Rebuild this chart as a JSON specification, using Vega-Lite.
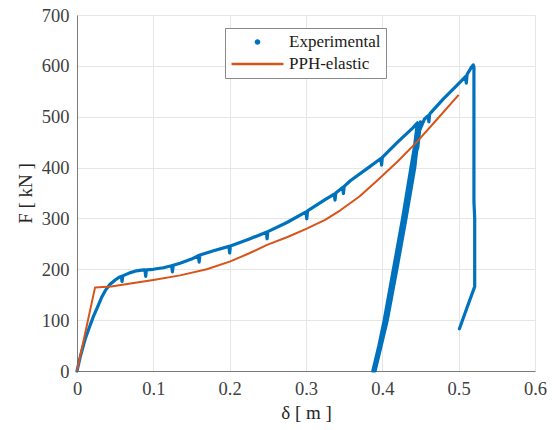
{
  "$schema": "https://vega.github.io/schema/vega-lite/v6.json",
  "width": 458,
  "height": 356,
  "autosize": {"type": "none"},
  "padding": {"left": 77, "top": 15, "right": 20, "bottom": 59},
  "background": "white",
  "datasets": {
    "exp": [
      {"d":0,"F":0},{"d":0.005,"F":32},{"d":0.0105,"F":62},{"d":0.016,"F":85},{"d":0.0214,"F":107},{"d":0.027,"F":126},{"d":0.032,"F":144},{"d":0.037,"F":158},{"d":0.043,"F":170},{"d":0.05,"F":179},{"d":0.056,"F":185},
      {"d":0.058,"F":186},{"d":0.059,"F":176},{"d":0.06,"F":187},
      {"d":0.069,"F":193},{"d":0.078,"F":197},{"d":0.087,"F":199},
      {"d":0.089,"F":199},{"d":0.09,"F":186},{"d":0.091,"F":199},
      {"d":0.1,"F":200},{"d":0.113,"F":203},
      {"d":0.124,"F":207},{"d":0.125,"F":195},{"d":0.126,"F":208},
      {"d":0.135,"F":212},{"d":0.15,"F":220},
      {"d":0.159,"F":227},{"d":0.16,"F":214},{"d":0.161,"F":228},
      {"d":0.18,"F":237},
      {"d":0.199,"F":245},{"d":0.2,"F":232},{"d":0.201,"F":246},
      {"d":0.225,"F":259},
      {"d":0.248,"F":273},{"d":0.249,"F":260},{"d":0.25,"F":274},
      {"d":0.275,"F":292},
      {"d":0.3,"F":313},{"d":0.301,"F":299},{"d":0.302,"F":315},
      {"d":0.325,"F":337},
      {"d":0.337,"F":348},{"d":0.338,"F":336},{"d":0.339,"F":350},
      {"d":0.348,"F":361},{"d":0.349,"F":349},{"d":0.35,"F":363},
      {"d":0.358,"F":374},{"d":0.38,"F":398},
      {"d":0.398,"F":418},{"d":0.399,"F":405},{"d":0.4,"F":420},
      {"d":0.42,"F":450},{"d":0.44,"F":478},{"d":0.446,"F":488},
      {"d":0.442,"F":440},{"d":0.4375,"F":400},{"d":0.4265,"F":300},{"d":0.4145,"F":200},{"d":0.4025,"F":100},{"d":0.3955,"F":50},{"d":0.3875,"F":0},
      {"d":0.3905,"F":0},{"d":0.3985,"F":50},{"d":0.4065,"F":100},{"d":0.419,"F":200},{"d":0.431,"F":300},{"d":0.4425,"F":400},{"d":0.447,"F":460},{"d":0.45,"F":490},
      {"d":0.4465,"F":440},{"d":0.4385,"F":400},{"d":0.4275,"F":300},{"d":0.4155,"F":200},{"d":0.4035,"F":100},{"d":0.3965,"F":50},{"d":0.3885,"F":0},
      {"d":0.3895,"F":0},{"d":0.3975,"F":50},{"d":0.4055,"F":100},{"d":0.418,"F":200},{"d":0.4295,"F":300},{"d":0.4415,"F":400},{"d":0.448,"F":470},{"d":0.455,"F":495},
      {"d":0.46,"F":502},{"d":0.461,"F":490},{"d":0.462,"F":505},
      {"d":0.463,"F":507},{"d":0.48,"F":535},{"d":0.5,"F":565},
      {"d":0.509,"F":579},{"d":0.51,"F":566},{"d":0.511,"F":583},
      {"d":0.517,"F":598},{"d":0.519,"F":602},{"d":0.52,"F":598},{"d":0.52,"F":500},{"d":0.52,"F":400},{"d":0.52,"F":333},{"d":0.521,"F":300},{"d":0.521,"F":200},{"d":0.521,"F":166},{"d":0.511,"F":125},{"d":0.501,"F":83}
    ],
    "pph": [
      {"d":0,"F":0},{"d":0.0236,"F":164},{"d":0.045,"F":166},{"d":0.07,"F":172},{"d":0.1,"F":179},{"d":0.135,"F":188},{"d":0.17,"F":200},{"d":0.2,"F":215},{"d":0.225,"F":231},{"d":0.249,"F":248},{"d":0.275,"F":263},{"d":0.301,"F":280},{"d":0.325,"F":297},{"d":0.345,"F":316},{"d":0.37,"F":343},{"d":0.393,"F":374},{"d":0.42,"F":412},{"d":0.445,"F":450},{"d":0.47,"F":492},{"d":0.5,"F":543}
    ]
  },
  "encoding": {
    "x": {
      "field": "d", "type": "quantitative",
      "scale": {"domain": [0, 0.6], "nice": false, "zero": false},
      "axis": {"values": [0, 0.1, 0.2, 0.3, 0.4, 0.5, 0.6], "format": "~g", "title": "δ [ m ]", "titlePadding": 6}
    },
    "y": {
      "field": "F", "type": "quantitative",
      "scale": {"domain": [0, 700], "nice": false},
      "axis": {"values": [0, 100, 200, 300, 400, 500, 600, 700], "title": "F  [ kN ]", "titlePadding": 6}
    },
    "order": {"value": null}
  },
  "layer": [
    {
      "data": {"name": "exp"},
      "mark": {"type": "line", "strokeWidth": 3.2, "strokeJoin": "round", "strokeCap": "round"},
      "encoding": {
        "color": {
          "datum": "Experimental", "type": "nominal",
          "scale": {"domain": ["Experimental", "PPH-elastic"], "range": ["#0072BD", "#D95319"]},
          "legend": {
            "title": null,
            "orient": "none",
            "legendX": 148,
            "legendY": 13,
            "direction": "vertical",
            "strokeColor": "#8a8a8a",
            "fillColor": "white",
            "padding": 5,
            "symbolType": "stroke",
            "symbolSize": 2700,
            "symbolStrokeWidth": 2.5,
            "clipHeight": 18,
            "labelOffset": 4,
            "rowPadding": 4,
            "labelFont": "Liberation Serif, Times New Roman, DejaVu Serif, serif",
            "labelFontSize": 17,
            "labelColor": "#1a1a1a",
            "encode": {
              "symbols": {
                "update": {
                  "shape": {"signal": "datum.value === 'Experimental' ? 'M-0.06,0A0.06,0.06,0,1,0,0.06,0A0.06,0.06,0,1,0,-0.06,0Z' : 'stroke'"},
                  "fill": {"signal": "datum.value === 'Experimental' ? '#0072BD' : 'transparent'"},
                  "stroke": {"signal": "datum.value === 'Experimental' ? 'transparent' : '#D95319'"}
                }
              }
            }
          }
        }
      }
    },
    {
      "data": {"name": "pph"},
      "mark": {"type": "line", "strokeWidth": 2, "strokeJoin": "round"},
      "encoding": {
        "color": {"datum": "PPH-elastic", "type": "nominal"}
      }
    }
  ],
  "config": {
    "view": {"stroke": null},
    "axis": {
      "labelFont": "Liberation Serif, Times New Roman, DejaVu Serif, serif",
      "labelFontSize": 18.5,
      "labelColor": "#404040",
      "titleFont": "Liberation Serif, Times New Roman, DejaVu Serif, serif",
      "titleFontSize": 19,
      "titleFontWeight": "normal",
      "titleColor": "#262626",
      "gridColor": "#e6e6e6",
      "gridWidth": 1,
      "domainColor": "#7a7a7a",
      "ticks": false,
      "labelPadding": 8,
      "labelFlush": false,
      "labelOverlap": false
    }
  }
}
